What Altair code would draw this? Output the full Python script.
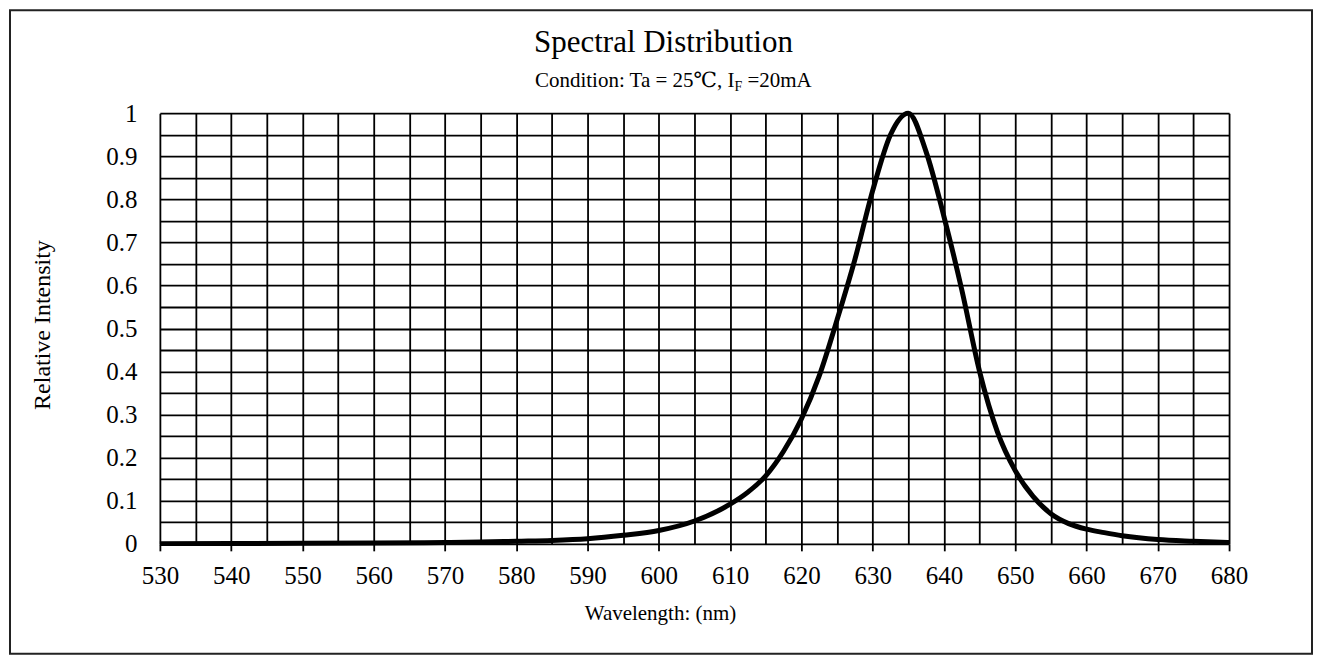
import altair as alt
import pandas as pd

# ---- data ----
wavelength = [530, 540, 550, 560, 570, 575, 580, 585, 590, 595, 600, 605, 610,
              612.5, 615, 617.5, 620, 622.5, 625, 627.5, 630, 632.5, 635,
              637.5, 640, 642.5, 645, 647.5, 650, 652.5, 655, 657.5, 660,
              662.5, 665, 670, 675, 680]
intensity = [0.0005, 0.0008, 0.0012, 0.002, 0.003, 0.004, 0.006, 0.008, 0.012,
             0.02, 0.031, 0.053, 0.092, 0.12, 0.158, 0.215, 0.29, 0.39, 0.52,
             0.66, 0.82, 0.95, 1.0, 0.91, 0.76, 0.59, 0.40, 0.26, 0.17, 0.11,
             0.07, 0.047, 0.034, 0.026, 0.019, 0.01, 0.006, 0.003]

x_ticks = [530, 535, 540, 545, 550, 555, 560, 565, 570, 575, 580, 585, 590, 595,
           600, 605, 610, 615, 620, 625, 630, 635, 640, 645, 650, 655, 660, 665,
           670, 675, 680]
y_ticks = [0, 0.05, 0.1, 0.15, 0.2, 0.25, 0.3, 0.35, 0.4, 0.45, 0.5, 0.55, 0.6,
           0.65, 0.7, 0.75, 0.8, 0.85, 0.9, 0.95, 1.0]

title_text = "Spectral Distribution"
sub_part1 = "Condition: Ta = 25\u2103, I"
sub_sub = "F"
sub_part2 = "=20mA"
x_title = "Wavelength: (nm)"
y_title = "Relative Intensity"

FONT = "Liberation Serif, DejaVu Serif, serif"
W, H = 1070, 431

df = pd.DataFrame({"wl": wavelength, "val": intensity})

x_axis = alt.Axis(
    values=x_ticks, grid=True, gridColor="black", gridWidth=1.8, gridOpacity=1,
    domain=False, tickColor="black", tickWidth=1.8, tickSize=7,
    tickOpacity={"condition": {"test": "datum.value % 10 != 0", "value": 0}, "value": 1},
    labelExpr="datum.value % 10 == 0 ? datum.label : ''", format="d",
    labelFont=FONT, labelFontSize=25, labelColor="black", labelPadding=13,
    labelOverlap=False, labelFlush=False, title=None,
)
y_axis = alt.Axis(
    values=y_ticks, grid=True, gridColor="black", gridWidth=1.8, gridOpacity=1,
    domain=False, ticks=False, format="~g",
    labelExpr="round(datum.value * 100) % 10 == 0 ? datum.label : ''",
    labelFont=FONT, labelFontSize=25, labelColor="black", labelPadding=23,
    labelOverlap=False, labelFlush=False, title=None,
)

curve = alt.Chart(df).mark_line(color="black", strokeWidth=5, interpolate="monotone").encode(
    x=alt.X("wl:Q", scale=alt.Scale(domain=[530, 680], nice=False, zero=False), axis=x_axis),
    y=alt.Y("val:Q", scale=alt.Scale(domain=[0, 1], nice=False), axis=y_axis),
)

one = alt.Data(values=[{"a": 1}])

def txt(text, x, y, size, align="center", baseline="alphabetic", angle=0):
    kw = dict(text=text, font=FONT, fontSize=size, color="black", align=align, baseline=baseline)
    if angle:
        kw["angle"] = angle
    return alt.Chart(one).mark_text(**kw).encode(x=alt.value(x), y=alt.value(y))

border = alt.Chart(one).mark_rect(fill=None, stroke="#222", strokeWidth=2).encode(
    x=alt.value(-150), x2=alt.value(1153), y=alt.value(-103), y2=alt.value(541)
)

X1 = 575  # end of subtitle part 1, relative to plot left
layers = [
    border,
    curve,
    txt(title_text, 504, -61, 31),
    txt(sub_part1, X1, -26, 21, align="right"),
    txt(sub_sub, X1, -22, 14, align="left"),
    txt(sub_part2, X1 + 13, -26, 21, align="left"),
    txt(x_title, 501, 507, 21),
    txt(y_title, -117, 212, 24, baseline="middle", angle=270),
]

chart = alt.layer(*layers).properties(
    width=W, height=H,
    autosize=alt.AutoSizeParams(type="none"),
    padding={"left": 152, "top": 105, "right": 85, "bottom": 113},
).configure_view(stroke="black", strokeWidth=3).configure(background="white")

chart.save("out.html", embed_options={"renderer": "svg", "actions": False})
